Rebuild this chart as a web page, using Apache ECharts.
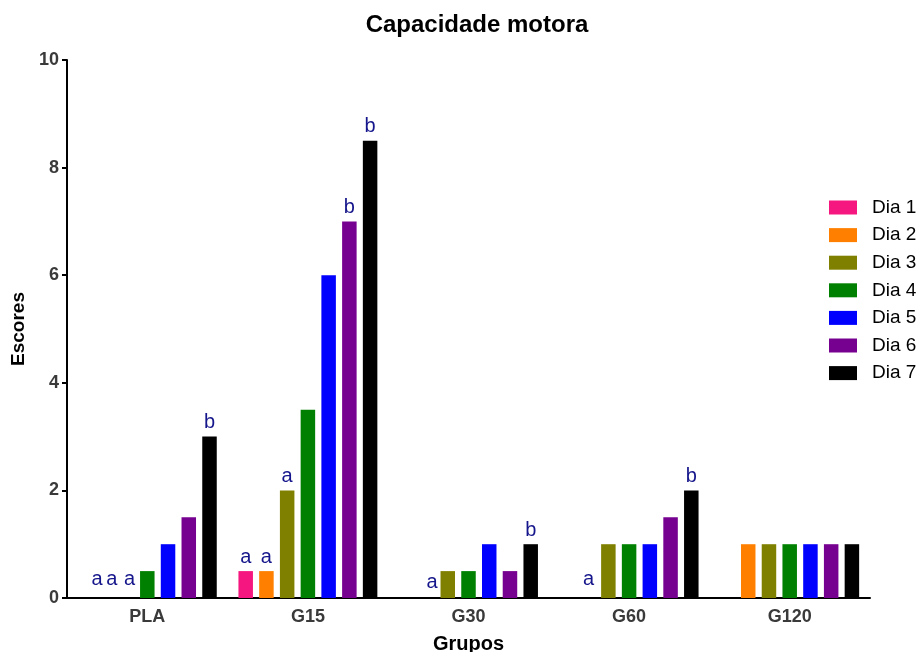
<!DOCTYPE html>
<html>
<head>
<meta charset="utf-8">
<script src="https://cdn.jsdelivr.net/npm/echarts@6/dist/echarts.min.js"></script>
<style>html,body{margin:0;padding:0;background:#fff}#c{width:922px;height:652px}</style>
</head>
<body>
<div id="c"></div>
<script>
var categories = ['PLA', 'G15', 'G30', 'G60', 'G120'];
var seriesNames = ['Dia 1', 'Dia 2', 'Dia 3', 'Dia 4', 'Dia 5', 'Dia 6', 'Dia 7'];
var dia1 = [0, 0.5, 0, 0, 0];
var dia2 = [0, 0.5, 0, 0, 1];
var dia3 = [0, 2, 0.5, 1, 1];
var dia4 = [0.5, 3.5, 0.5, 1, 1];
var dia5 = [1, 6, 1, 1, 1];
var dia6 = [1.5, 7, 0.5, 1.5, 1];
var dia7 = [3, 8.5, 1, 2, 1];
var letters1 = ['a', 'a', '', '', ''];
var letters2 = ['a', 'a', 'a', 'a', ''];
var letters3 = ['a', 'a', '', '', ''];
var letters4 = ['', '', '', '', ''];
var letters5 = ['', '', '', '', ''];
var letters6 = ['', 'b', '', '', ''];
var letters7 = ['b', 'b', 'b', 'b', ''];
var yTicks = [0, 2, 4, 6, 8, 10];

var colors = ['#F5167F', '#FF8000', '#808000', '#008000', '#0000FF', '#76008F', '#000000'];
var values = [dia1, dia2, dia3, dia4, dia5, dia6, dia7];
var letters = [letters1, letters2, letters3, letters4, letters5, letters6, letters7];
// label placement tweaks (style only): key "series-category"
var labelShift = {'0-0': [12, -5], '1-0': [6, -5], '2-0': [3, -5], '1-2': [5, -2], '1-3': [1, -5]};

var font = 'Liberation Sans, Arial, sans-serif';
var series = seriesNames.map(function (name, i) {
  return {
    name: name,
    type: 'bar',
    barWidth: 14.5,
    barGap: '43%',
    itemStyle: {color: colors[i]},
    data: values[i].map(function (v, j) {
      var t = letters[i][j];
      return {
        value: v,
        label: {
          show: t !== '',
          position: 'top',
          distance: 4,
          formatter: t,
          offset: labelShift[i + '-' + j] || [0, 0],
          color: '#16168C',
          fontSize: 20,
          fontFamily: font
        }
      };
    })
  };
});

var chart = echarts.init(document.getElementById('c'), null, {renderer: 'canvas'});
chart.setOption({
  animation: false,
  backgroundColor: '#fff',
  color: colors,
  title: {
    text: 'Capacidade motora',
    left: 472,
    textAlign: 'center',
    top: 8,
    textStyle: {fontSize: 24, fontWeight: 'bold', color: '#000', fontFamily: font}
  },
  legend: {
    orient: 'vertical',
    left: 824,
    top: 193,
    itemWidth: 28,
    itemHeight: 14,
    itemGap: 8.6,
    icon: 'rect',
    textStyle: {fontSize: 19, color: '#000', fontFamily: font, padding: [0, 0, 0, 10]},
    data: seriesNames
  },
  grid: {left: 67, right: 52, top: 60, bottom: 54, containLabel: false, outerBoundsMode: 'none'},
  xAxis: {
    type: 'category',
    data: categories,
    name: 'Grupos',
    nameLocation: 'middle',
    nameGap: 36,
    nameTextStyle: {fontSize: 20, fontWeight: 'bold', color: '#000', fontFamily: font},
    axisLine: {lineStyle: {color: '#000', width: 2}},
    axisTick: {alignWithLabel: true, length: 5, lineStyle: {color: '#000', width: 2}},
    axisLabel: {fontSize: 18, fontWeight: 'bold', color: '#3a3a3a', fontFamily: font, margin: 10}
  },
  yAxis: {
    type: 'value',
    min: 0,
    max: 10,
    interval: 2,
    name: 'Escores',
    nameLocation: 'middle',
    nameGap: 38,
    nameTextStyle: {fontSize: 19, fontWeight: 'bold', color: '#000', fontFamily: font},
    axisLine: {show: true, lineStyle: {color: '#000', width: 2}},
    axisTick: {show: true, length: 5, lineStyle: {color: '#000', width: 2}},
    splitLine: {show: false},
    axisLabel: {
      fontSize: 18, fontWeight: 'bold', color: '#3a3a3a', fontFamily: font, margin: 8,
      formatter: function (v) { return yTicks.indexOf(v) >= 0 ? String(v) : ''; }
    }
  },
  series: series
});
</script>
</body>
</html>
